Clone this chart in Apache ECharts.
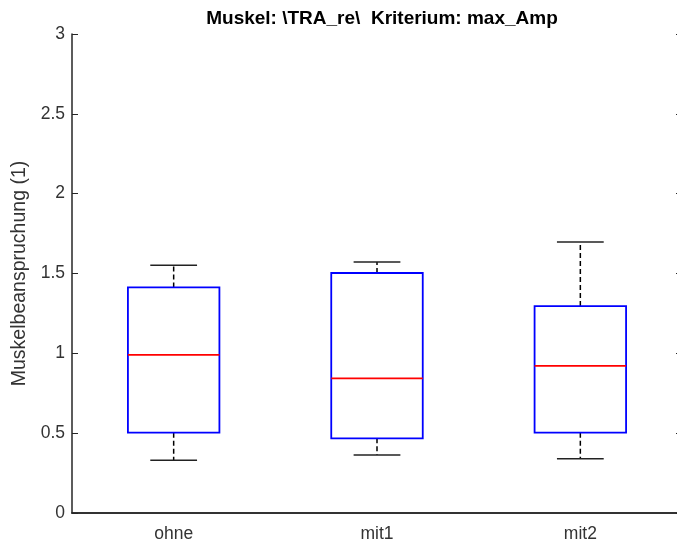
<!DOCTYPE html>
<html>
<head>
<meta charset="utf-8">
<script src="https://cdn.jsdelivr.net/npm/echarts@6/dist/echarts.min.js"></script>
<style>html,body{margin:0;padding:0;background:#fff;}#c{width:677px;height:547px;}</style>
</head>
<body>
<div id="c"></div>
<script>
const categories = ['ohne', 'mit1', 'mit2'];
const lowerWhisker = [0.33, 0.363, 0.34];
const q1 = [0.503, 0.468, 0.503];
const median = [0.99, 0.843, 0.922];
const q3 = [1.413, 1.503, 1.296];
const upperWhisker = [1.551, 1.572, 1.697];
const yTicks = [0, 0.5, 1, 1.5, 2, 2.5, 3];

const axisColor = '#262626';
const font = 'Liberation Sans, Arial, Helvetica, sans-serif';

const data = categories.map((c, i) => [i, lowerWhisker[i], q1[i], median[i], q3[i], upperWhisker[i]]);

function renderItem(params, api) {
  const idx = api.value(0);
  const band = api.size([1, 0])[0];
  const boxW = band * 0.45;
  const capW = band * 0.23;
  const pLow = api.coord([idx, api.value(1)]);
  const pQ1 = api.coord([idx, api.value(2)]);
  const pMed = api.coord([idx, api.value(3)]);
  const pQ3 = api.coord([idx, api.value(4)]);
  const pHigh = api.coord([idx, api.value(5)]);
  const cx = pMed[0];
  const whiskerStyle = { stroke: '#000', lineWidth: 1.5, lineDash: [5, 3] };
  const capStyle = { stroke: '#222', lineWidth: 1.5 };
  return {
    type: 'group',
    children: [
      { type: 'line', shape: { x1: cx, y1: pQ3[1], x2: cx, y2: pHigh[1] }, style: whiskerStyle },
      { type: 'line', shape: { x1: cx, y1: pQ1[1], x2: cx, y2: pLow[1] }, style: whiskerStyle },
      { type: 'line', shape: { x1: cx - capW / 2, y1: pHigh[1], x2: cx + capW / 2, y2: pHigh[1] }, style: capStyle },
      { type: 'line', shape: { x1: cx - capW / 2, y1: pLow[1], x2: cx + capW / 2, y2: pLow[1] }, style: capStyle },
      { type: 'rect', shape: { x: cx - boxW / 2, y: pQ3[1], width: boxW, height: pQ1[1] - pQ3[1] },
        style: { fill: 'none', stroke: '#0000ff', lineWidth: 1.8 } },
      { type: 'line', shape: { x1: cx - boxW / 2, y1: pMed[1], x2: cx + boxW / 2, y2: pMed[1] },
        style: { stroke: '#ff0000', lineWidth: 1.8 } }
    ]
  };
}

const chart = echarts.init(document.getElementById('c'), null, { renderer: 'canvas' });
chart.setOption({
  animation: false,
  backgroundColor: '#fff',
  title: {
    text: 'Muskel: \\TRA_re\\  Kriterium: max_Amp',
    left: 377,
    textAlign: 'center',
    top: 4,
    textStyle: { fontFamily: font, fontSize: 19, fontWeight: 'bold', color: '#000' }
  },
  grid: { left: 72, top: 34, right: -5, bottom: 34, outerBoundsMode: 'none', containLabel: false },
  xAxis: [
    {
      type: 'category', data: categories, boundaryGap: true, position: 'bottom',
      axisLine: { lineStyle: { color: axisColor, width: 1.5 } },
      axisTick: { inside: true, alignWithLabel: true, length: 6, lineStyle: { color: axisColor } },
      axisLabel: { color: '#333', fontFamily: font, fontSize: 17.5, margin: 12 },
      splitLine: { show: false }
    },
    {
      type: 'category', data: categories, boundaryGap: true, position: 'top',
      axisLine: { lineStyle: { color: axisColor, width: 1.5 } },
      axisTick: { inside: true, alignWithLabel: true, length: 6, lineStyle: { color: axisColor } },
      axisLabel: { show: false }, splitLine: { show: false }
    }
  ],
  yAxis: [
    {
      type: 'value', min: yTicks[0], max: yTicks[yTicks.length - 1], interval: 0.5, position: 'left',
      name: 'Muskelbeanspruchung (1)', nameLocation: 'middle', nameGap: 36, nameRotate: 90,
      nameTextStyle: { color: '#333', fontFamily: font, fontSize: 19.5 },
      axisLine: { show: true, lineStyle: { color: axisColor, width: 1.5 } },
      axisTick: { show: true, inside: true, length: 6, lineStyle: { color: axisColor } },
      axisLabel: { color: '#333', fontFamily: font, fontSize: 17.5, margin: 7,
        formatter: v => yTicks.includes(v) ? String(v) : '' },
      splitLine: { show: false }
    },
    {
      type: 'value', min: yTicks[0], max: yTicks[yTicks.length - 1], interval: 0.5, position: 'right',
      axisLine: { show: true, lineStyle: { color: axisColor, width: 1.5 } },
      axisTick: { show: true, inside: true, length: 6, lineStyle: { color: axisColor } },
      axisLabel: { show: false }, splitLine: { show: false }
    }
  ],
  series: [{
    type: 'custom',
    xAxisIndex: 0, yAxisIndex: 0,
    renderItem: renderItem,
    encode: { x: 0, y: [1, 2, 3, 4, 5] },
    data: data
  }]
});
</script>
</body>
</html>
